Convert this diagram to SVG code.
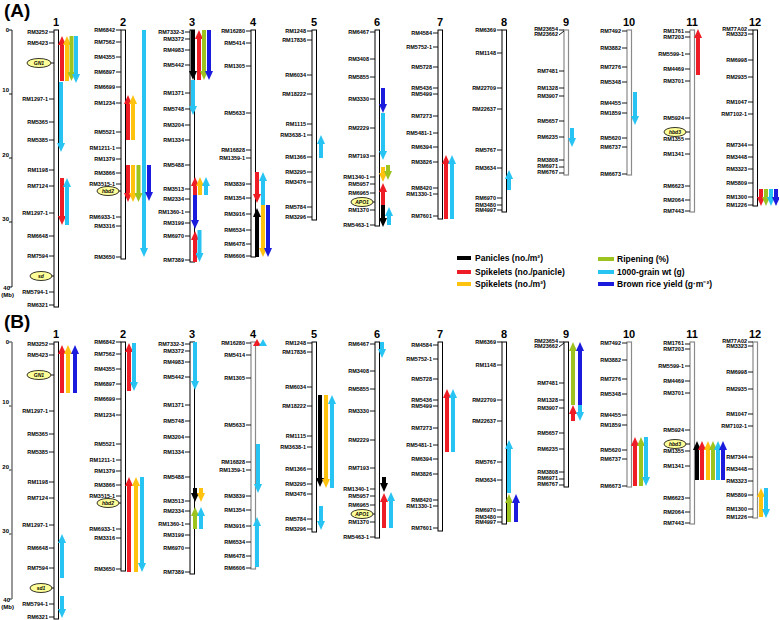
<svg xmlns="http://www.w3.org/2000/svg" width="779" height="620" viewBox="0 0 779 620">
<style>
.chr{fill:#fff;stroke:#000;stroke-width:1}
.chg{fill:#fff;stroke:#8a8a8a;stroke-width:1.2}
.tk{stroke:#000;stroke-width:0.9;fill:none}
.ml{font-family:"Liberation Sans",Arial,sans-serif;font-weight:bold;font-size:5.5px;text-anchor:end;fill:#000}
.num{font-family:"Liberation Sans",Arial,sans-serif;font-weight:bold;font-size:11px;text-anchor:middle}
.ttl{font-family:"Liberation Sans",Arial,sans-serif;font-weight:bold;font-size:19px}
.ax{font-family:"Liberation Sans",Arial,sans-serif;font-weight:bold;font-size:6px;text-anchor:end}
.ov{fill:#ffff99;stroke:#000;stroke-width:0.8}
.ot{font-family:"Liberation Sans",Arial,sans-serif;font-weight:bold;font-style:italic;font-size:5px;text-anchor:middle}
.lg{font-family:"Liberation Sans",Arial,sans-serif;font-weight:bold;font-size:8.5px}
.a{stroke-width:4;fill:none}
.k{stroke:#000}.r{stroke:#ee1c24}.o{stroke:#ffc20e}.g{stroke:#9dc31f}.c{stroke:#27c4f3}.b{stroke:#1b1bde}
.k.a{marker-end:url(#mk)}.r.a{marker-end:url(#mr)}.o.a{marker-end:url(#mo)}.g.a{marker-end:url(#mg)}.c.a{marker-end:url(#mc)}.b.a{marker-end:url(#mb)}
</style>
<defs>
<marker id="mk" viewBox="0 0 10 10" refX="0" refY="5" markerWidth="2.25" markerHeight="2" orient="auto" preserveAspectRatio="none"><path d="M0,0L10,5L0,10z" fill="#000"/></marker>
<marker id="mr" viewBox="0 0 10 10" refX="0" refY="5" markerWidth="2.25" markerHeight="2" orient="auto" preserveAspectRatio="none"><path d="M0,0L10,5L0,10z" fill="#ee1c24"/></marker>
<marker id="mo" viewBox="0 0 10 10" refX="0" refY="5" markerWidth="2.25" markerHeight="2" orient="auto" preserveAspectRatio="none"><path d="M0,0L10,5L0,10z" fill="#ffc20e"/></marker>
<marker id="mg" viewBox="0 0 10 10" refX="0" refY="5" markerWidth="2.25" markerHeight="2" orient="auto" preserveAspectRatio="none"><path d="M0,0L10,5L0,10z" fill="#9dc31f"/></marker>
<marker id="mc" viewBox="0 0 10 10" refX="0" refY="5" markerWidth="2.25" markerHeight="2" orient="auto" preserveAspectRatio="none"><path d="M0,0L10,5L0,10z" fill="#27c4f3"/></marker>
<marker id="mb" viewBox="0 0 10 10" refX="0" refY="5" markerWidth="2.25" markerHeight="2" orient="auto" preserveAspectRatio="none"><path d="M0,0L10,5L0,10z" fill="#1b1bde"/></marker>
</defs>
<rect width="779" height="620" fill="#fff"/>

<!-- PANEL A -->
<text class="ttl" x="4" y="17">(A)</text>
<g id="A-axis">
<path class="tk" d="M12,30V287M9,30h3M9,94h3M9,158h3M9,222h3M9,287h3" stroke-width="1.2"/>
<text class="ax" x="9" y="32">0</text><text class="ax" x="9" y="92">10</text><text class="ax" x="9" y="157">20</text><text class="ax" x="9" y="221">30</text><text class="ax" x="10" y="290">40</text>
<text class="ax" x="14" y="297" style="text-anchor:end">(Mb)</text>
</g>

<g id="A-chr1">
<text class="num" x="56" y="26">1</text>
<rect class="chr" x="54" y="30" width="4.5" height="277"/>
<path class="tk" d="M49,32h5M49,43h5M51,63h3M49,99h5M49,122h5M49,140h5M49,170h5M49,186h5M49,213h5M49,236h5M49,256h5M51,276h3M49,292h5M49,305h5"/>
<text class="ml" x="48" y="34">RM3252</text><text class="ml" x="48" y="45">RM5423</text>
<ellipse class="ov" cx="39" cy="63" rx="12" ry="4.5"/><text class="ot" x="39" y="65">GN1</text>
<text class="ml" x="48" y="101">RM1297-1</text><text class="ml" x="48" y="124">RM5365</text><text class="ml" x="48" y="142">RM5385</text><text class="ml" x="48" y="172">RM1198</text><text class="ml" x="48" y="188">RM7124</text><text class="ml" x="48" y="215">RM1297-1</text><text class="ml" x="48" y="238">RM6648</text><text class="ml" x="48" y="258">RM7594</text>
<ellipse class="ov" cx="41" cy="276" rx="11" ry="4.5"/><text class="ot" x="41" y="278">sd</text>
<text class="ml" x="48" y="294">RM5794-1</text><text class="ml" x="48" y="307">RM6321</text>
</g>

<g id="A-chr2">
<text class="num" x="123" y="26">2</text>
<rect class="chr" x="121" y="30" width="4.5" height="229"/>
<path class="tk" d="M116,30h5M116,42h5M116,57h5M116,72h5M116,87h5M116,103h5M116,132h5M116,148h5M116,159h5M116,173h5M116,184h5M119,191h2M116,217h5M116,226h5M116,257h5"/>
<text class="ml" x="115" y="32">RM6842</text><text class="ml" x="115" y="44">RM7562</text><text class="ml" x="115" y="59">RM4355</text><text class="ml" x="115" y="74">RM6897</text><text class="ml" x="115" y="89">RM6699</text><text class="ml" x="115" y="105">RM1234</text><text class="ml" x="115" y="134">RM5521</text><text class="ml" x="115" y="150">RM1211-1</text><text class="ml" x="115" y="161">RM1379</text><text class="ml" x="115" y="175">RM3866</text><text class="ml" x="115" y="186">RM3515-1</text>
<ellipse class="ov" cx="108" cy="191" rx="11" ry="4.5"/><text class="ot" x="108" y="193">hbd2</text>
<text class="ml" x="115" y="219">RM6933-1</text><text class="ml" x="115" y="228">RM3316</text><text class="ml" x="115" y="259">RM3650</text>
</g>

<g id="A-chr3">
<text class="num" x="192" y="26">3</text>
<rect class="chr" x="190" y="30" width="4.5" height="232"/>
<path class="tk" d="M185,32h5M185,39h5M185,50h5M185,65h5M185,93h5M185,109h5M185,125h5M185,140h5M185,165h5M185,189h5M185,199h5M185,212h5M185,223h5M185,236h5M185,260h5"/>
<text class="ml" x="184" y="34">RM7332-3</text><text class="ml" x="184" y="41">RM3372</text><text class="ml" x="184" y="52">RM4983</text><text class="ml" x="184" y="67">RM5442</text><text class="ml" x="184" y="95">RM1371</text><text class="ml" x="184" y="111">RM5748</text><text class="ml" x="184" y="127">RM3204</text><text class="ml" x="184" y="142">RM1334</text><text class="ml" x="184" y="167">RM5488</text><text class="ml" x="184" y="191">RM3513</text><text class="ml" x="184" y="201">RM2334</text><text class="ml" x="184" y="214">RM1360-1</text><text class="ml" x="184" y="225">RM3199</text><text class="ml" x="184" y="238">RM6970</text><text class="ml" x="184" y="262">RM7389</text>
</g>

<g id="A-chr4">
<text class="num" x="253" y="26">4</text>
<rect class="chr" x="251" y="30" width="4.5" height="227"/>
<path class="tk" d="M246,31h5M246,43h5M246,66h5M246,113h5M246,150h5M246,158h5M246,184h5M246,198h5M246,214h5M246,230h5M246,244h5M246,256h5"/>
<text class="ml" x="245" y="33">RM16280</text><text class="ml" x="245" y="45">RM5414</text><text class="ml" x="245" y="68">RM1305</text><text class="ml" x="245" y="115">RM5633</text><text class="ml" x="245" y="152">RM16828</text><text class="ml" x="245" y="160">RM1359-1</text><text class="ml" x="245" y="186">RM3839</text><text class="ml" x="245" y="200">RM1354</text><text class="ml" x="245" y="216">RM3916</text><text class="ml" x="245" y="232">RM6534</text><text class="ml" x="245" y="246">RM6478</text><text class="ml" x="245" y="258">RM6606</text>
</g>

<g id="A-chr5">
<text class="num" x="314" y="26">5</text>
<rect class="chr" x="312" y="30" width="4.5" height="190"/>
<path class="tk" d="M307,31h5M307,40h5M307,75h5M307,94h5M307,124h5M307,135h5M307,157h5M307,172h5M307,182h5M307,207h5M307,217h5"/>
<text class="ml" x="306" y="33">RM1248</text><text class="ml" x="306" y="42">RM17836</text><text class="ml" x="306" y="77">RM6034</text><text class="ml" x="306" y="96">RM18222</text><text class="ml" x="306" y="126">RM1115</text><text class="ml" x="306" y="137">RM3638-1</text><text class="ml" x="306" y="159">RM1366</text><text class="ml" x="306" y="174">RM3295</text><text class="ml" x="306" y="184">RM3476</text><text class="ml" x="306" y="209">RM5784</text><text class="ml" x="306" y="219">RM3296</text>
</g>

<g id="A-chr6">
<text class="num" x="377" y="26">6</text>
<rect class="chr" x="375" y="30" width="4.5" height="196"/>
<path class="tk" d="M370,32h5M370,59h5M370,77h5M370,99h5M370,128h5M370,156h5M370,177h5M370,184h5M370,193h5M373,202h2M370,210h5M370,225h5"/>
<text class="ml" x="369" y="34">RM6467</text><text class="ml" x="369" y="61">RM3408</text><text class="ml" x="369" y="79">RM5855</text><text class="ml" x="369" y="101">RM3330</text><text class="ml" x="369" y="130">RM2229</text><text class="ml" x="369" y="158">RM7193</text><text class="ml" x="369" y="179">RM1340-1</text><text class="ml" x="369" y="186">RM5957</text><text class="ml" x="369" y="195">RM6965</text>
<ellipse class="ov" cx="362" cy="202" rx="11" ry="4.5"/><text class="ot" x="362" y="204">APO1</text>
<text class="ml" x="369" y="212">RM1370</text><text class="ml" x="369" y="227">RM5463-1</text>
</g>

<g id="A-chr7">
<text class="num" x="440" y="26">7</text>
<rect class="chr" x="438" y="30" width="4.5" height="189"/>
<path class="tk" d="M433,33h5M433,47h5M433,67h5M433,88h5M433,94h5M433,116h5M433,133h5M433,147h5M433,162h5M433,188h5M433,194h5M433,216h5"/>
<text class="ml" x="432" y="35">RM4584</text><text class="ml" x="432" y="49">RM5752-1</text><text class="ml" x="432" y="69">RM5728</text><text class="ml" x="432" y="90">RM5436</text><text class="ml" x="432" y="96">RM5499</text><text class="ml" x="432" y="118">RM7273</text><text class="ml" x="432" y="135">RM5481-1</text><text class="ml" x="432" y="149">RM6394</text><text class="ml" x="432" y="164">RM3826</text><text class="ml" x="432" y="190">RM8420</text><text class="ml" x="432" y="196">RM1330-1</text><text class="ml" x="432" y="218">RM7601</text>
</g>

<g id="A-chr8">
<text class="num" x="504" y="26">8</text>
<rect class="chr" x="502" y="30" width="4.5" height="182"/>
<path class="tk" d="M497,30h5M497,53h5M497,88h5M497,109h5M497,150h5M497,168h5M497,198h5M497,205h5M497,210h5"/>
<text class="ml" x="496" y="32">RM6369</text><text class="ml" x="496" y="55">RM1148</text><text class="ml" x="496" y="90">RM22709</text><text class="ml" x="496" y="111">RM22637</text><text class="ml" x="496" y="152">RM5767</text><text class="ml" x="496" y="170">RM3634</text><text class="ml" x="496" y="200">RM6970</text><text class="ml" x="496" y="207">RM3480</text><text class="ml" x="496" y="212">RM4997</text>
</g>

<g id="A-chr9">
<text class="num" x="566" y="26">9</text>
<rect class="chg" x="564" y="30" width="4.5" height="145"/>
<path class="tk" d="M559,30h5M559,35l5,-4M559,71h5M559,88h5M559,96h5M559,121h5M559,137h5M559,160h5M559,167h5M559,173h5"/>
<text class="ml" x="558" y="31">RM23654</text><text class="ml" x="558" y="36">RM23662</text><text class="ml" x="558" y="73">RM7481</text><text class="ml" x="558" y="90">RM1328</text><text class="ml" x="558" y="98">RM3907</text><text class="ml" x="558" y="123">RM5657</text><text class="ml" x="558" y="139">RM6235</text><text class="ml" x="558" y="162">RM3808</text><text class="ml" x="558" y="168">RM6971</text><text class="ml" x="558" y="174">RM6767</text>
</g>

<g id="A-chr10">
<text class="num" x="629" y="26">10</text>
<rect class="chg" x="627" y="30" width="4.5" height="145"/>
<path class="tk" d="M622,31h5M622,48h5M622,67h5M622,82h5M622,103h5M622,113h5M622,138h5M622,147h5M622,174h5"/>
<text class="ml" x="621" y="33">RM7492</text><text class="ml" x="621" y="50">RM3882</text><text class="ml" x="621" y="69">RM7276</text><text class="ml" x="621" y="84">RM5348</text><text class="ml" x="621" y="105">RM4455</text><text class="ml" x="621" y="115">RM1859</text><text class="ml" x="621" y="140">RM5620</text><text class="ml" x="621" y="149">RM6737</text><text class="ml" x="621" y="176">RM6673</text>
</g>

<g id="A-chr11">
<text class="num" x="692" y="26">11</text>
<rect class="chg" x="690" y="30" width="4.5" height="182"/>
<path class="tk" d="M685,32h5M685,37h5M685,54h5M685,69h5M685,81h5M685,118h5M686,132h4M685,139h5M685,154h5M685,186h5M685,200h5M685,211h5"/>
<text class="ml" x="684" y="33">RM1761</text><text class="ml" x="684" y="39">RM7203</text><text class="ml" x="684" y="56">RM5599-1</text><text class="ml" x="684" y="71">RM4469</text><text class="ml" x="684" y="83">RM3701</text><text class="ml" x="684" y="120">RM5924</text>
<ellipse class="ov" cx="675" cy="132" rx="11" ry="4.5"/><text class="ot" x="675" y="134">hbd3</text>
<text class="ml" x="684" y="141">RM1355</text><text class="ml" x="684" y="156">RM1341</text><text class="ml" x="684" y="188">RM6623</text><text class="ml" x="684" y="202">RM2064</text><text class="ml" x="684" y="213">RM7443</text>
</g>

<g id="A-chr12">
<text class="num" x="755" y="26">12</text>
<rect class="chr" x="753" y="30" width="4.5" height="176"/>
<path class="tk" d="M748,30h5M748,34h5M748,60h5M748,77h5M748,102h5M748,114h5M748,145h5M748,157h5M748,169h5M748,183h5M748,197h5M748,205h5"/>
<text class="ml" x="747" y="31">RM77A02</text><text class="ml" x="747" y="36">RM3323</text><text class="ml" x="747" y="62">RM6998</text><text class="ml" x="747" y="79">RM2935</text><text class="ml" x="747" y="104">RM1047</text><text class="ml" x="747" y="116">RM7102-1</text><text class="ml" x="747" y="147">RM7344</text><text class="ml" x="747" y="159">RM3448</text><text class="ml" x="747" y="171">RM3323</text><text class="ml" x="747" y="185">RM5809</text><text class="ml" x="747" y="199">RM1300</text><text class="ml" x="747" y="207">RM1226</text>
</g>

<g id="A-connectors">
<line class="r a" x1="62" y1="81" x2="62" y2="45"/><line class="o a" x1="67" y1="81" x2="67" y2="45"/><line class="g a" x1="71.5" y1="36" x2="71.5" y2="72"/><line class="c a" x1="76" y1="36" x2="76" y2="74"/>
<line class="c a" x1="61" y1="82" x2="61" y2="143"/>
<line class="r a" x1="62" y1="178" x2="62" y2="216"/><line class="c a" x1="67" y1="225" x2="67" y2="187"/>
<line class="c a" x1="144" y1="30" x2="144" y2="248"/>
<line class="r a" x1="128" y1="140" x2="128" y2="104"/><line class="o a" x1="133" y1="140" x2="133" y2="104"/>
<line class="r a" x1="128" y1="165" x2="128" y2="193"/><line class="o a" x1="133" y1="165" x2="133" y2="193"/><line class="g a" x1="138.5" y1="165" x2="138.5" y2="193"/><line class="b a" x1="149" y1="165" x2="149" y2="192"/>
<line class="k a" x1="193" y1="30" x2="193" y2="71"/><line class="r a" x1="199" y1="80" x2="199" y2="39"/><line class="g a" x1="204" y1="30" x2="204" y2="71"/><line class="b a" x1="209" y1="30" x2="209" y2="71"/>
<line class="c a" x1="193" y1="80" x2="193" y2="106"/>
<line class="r a" x1="195" y1="195" x2="195" y2="186"/><line class="o a" x1="200" y1="195" x2="200" y2="186"/><line class="c a" x1="206" y1="195" x2="206" y2="186"/>
<line class="b a" x1="195" y1="195" x2="195" y2="220"/>
<line class="r a" x1="195" y1="262" x2="195" y2="240"/><line class="c a" x1="199.5" y1="230" x2="199.5" y2="253"/>
<line class="r a" x1="257" y1="172" x2="257" y2="194"/><line class="c a" x1="263" y1="205" x2="263" y2="181"/>
<line class="k a" x1="257" y1="257" x2="257" y2="217"/><line class="o a" x1="263" y1="205" x2="263" y2="248"/><line class="b a" x1="268" y1="205" x2="268" y2="248"/>
<line class="c a" x1="321" y1="158" x2="321" y2="144"/>
<line class="b a" x1="383" y1="88" x2="383" y2="104"/><line class="c a" x1="383" y1="113" x2="383" y2="151"/>
<line class="o a" x1="383" y1="167" x2="383" y2="173"/><line class="g a" x1="388" y1="165" x2="388" y2="171"/>
<line class="r a" x1="383" y1="205" x2="383" y2="192"/><line class="k a" x1="383" y1="205" x2="383" y2="218"/><line class="c a" x1="389" y1="225" x2="389" y2="216"/>
<line class="r a" x1="446" y1="219" x2="446" y2="164"/><line class="c a" x1="452" y1="219" x2="452" y2="164"/>
<line class="c a" x1="509" y1="190" x2="509" y2="179"/>
<line class="c a" x1="572" y1="128" x2="572" y2="138"/>
<line class="c a" x1="635" y1="92" x2="635" y2="116"/>
<line class="r a" x1="698" y1="75" x2="698" y2="38"/>
<line class="r a" x1="761" y1="189" x2="761" y2="197"/><line class="g a" x1="766" y1="189" x2="766" y2="197"/><line class="c a" x1="771" y1="189" x2="771" y2="197"/><line class="b a" x1="776" y1="189" x2="776" y2="197"/>
</g>

<g id="legend">
<path class="k" d="M457,258h14" stroke-width="4"/><text class="lg" x="475" y="261">Panicles (no./m²)</text>
<path class="r" d="M457,272h14" stroke-width="4"/><text class="lg" x="475" y="275">Spikelets (no./panicle)</text>
<path class="o" d="M457,284h14" stroke-width="4"/><text class="lg" x="475" y="287">Spikelets (no./m²)</text>
<path class="g" d="M598,259h16" stroke-width="4"/><text class="lg" x="617" y="262">Ripening (%)</text>
<path class="c" d="M598,272h16" stroke-width="4"/><text class="lg" x="617" y="275">1000-grain wt (g)</text>
<path class="b" d="M598,284h16" stroke-width="4"/><text class="lg" x="617" y="287">Brown rice yield (g·m⁻²)</text>
</g>

<!-- PANEL B -->
<text class="ttl" x="4" y="328">(B)</text>
<g id="B-axis" transform="translate(0,312)">
<path d="M12,30V287M9,30h3M9,94h3M9,158h3M9,222h3M9,287h3" stroke="#777" stroke-width="1.5" fill="none"/>
<text class="ax" x="9" y="32">0</text><text class="ax" x="9" y="92">10</text><text class="ax" x="9" y="157">20</text><text class="ax" x="9" y="221">30</text><text class="ax" x="10" y="290">40</text>
<text class="ax" x="14" y="297">(Mb)</text>
</g>

<g id="B-chr1" transform="translate(0,312)">
<text class="num" x="56" y="26">1</text>
<rect class="chr" x="54" y="30" width="4.5" height="277"/>
<path class="tk" d="M49,32h5M49,43h5M51,63h3M49,99h5M49,122h5M49,140h5M49,170h5M49,186h5M49,213h5M49,236h5M49,256h5M51,276h3M49,292h5M49,305h5"/>
<text class="ml" x="48" y="34">RM3252</text><text class="ml" x="48" y="45">RM5423</text>
<ellipse class="ov" cx="39" cy="63" rx="12" ry="4.5"/><text class="ot" x="39" y="65">GN1</text>
<text class="ml" x="48" y="101">RM1297-1</text><text class="ml" x="48" y="124">RM5365</text><text class="ml" x="48" y="142">RM5385</text><text class="ml" x="48" y="172">RM1198</text><text class="ml" x="48" y="188">RM7124</text><text class="ml" x="48" y="215">RM1297-1</text><text class="ml" x="48" y="238">RM6648</text><text class="ml" x="48" y="258">RM7594</text>
<ellipse class="ov" cx="41" cy="276" rx="11" ry="4.5"/><text class="ot" x="41" y="278">sd1</text>
<text class="ml" x="48" y="294">RM5794-1</text><text class="ml" x="48" y="307">RM6321</text>
</g>

<g id="B-chr2" transform="translate(0,312)">
<text class="num" x="123" y="26">2</text>
<rect class="chr" x="121" y="30" width="4.5" height="229"/>
<path class="tk" d="M116,30h5M116,42h5M116,57h5M116,72h5M116,87h5M116,103h5M116,132h5M116,148h5M116,159h5M116,173h5M116,184h5M119,191h2M116,217h5M116,226h5M116,257h5"/>
<text class="ml" x="115" y="32">RM6842</text><text class="ml" x="115" y="44">RM7562</text><text class="ml" x="115" y="59">RM4355</text><text class="ml" x="115" y="74">RM6897</text><text class="ml" x="115" y="89">RM6699</text><text class="ml" x="115" y="105">RM1234</text><text class="ml" x="115" y="134">RM5521</text><text class="ml" x="115" y="150">RM1211-1</text><text class="ml" x="115" y="161">RM1379</text><text class="ml" x="115" y="175">RM3866</text><text class="ml" x="115" y="186">RM3515-1</text>
<ellipse class="ov" cx="108" cy="191" rx="11" ry="4.5"/><text class="ot" x="108" y="193">hbd2</text>
<text class="ml" x="115" y="219">RM6933-1</text><text class="ml" x="115" y="228">RM3316</text><text class="ml" x="115" y="259">RM3650</text>
</g>

<g id="B-chr3" transform="translate(0,312)">
<text class="num" x="192" y="26">3</text>
<rect class="chr" x="190" y="30" width="4.5" height="232"/>
<path class="tk" d="M185,32h5M185,39h5M185,50h5M185,65h5M185,93h5M185,109h5M185,125h5M185,140h5M185,165h5M185,189h5M185,199h5M185,212h5M185,223h5M185,236h5M185,260h5"/>
<text class="ml" x="184" y="34">RM7332-3</text><text class="ml" x="184" y="41">RM3372</text><text class="ml" x="184" y="52">RM4983</text><text class="ml" x="184" y="67">RM5442</text><text class="ml" x="184" y="95">RM1371</text><text class="ml" x="184" y="111">RM5748</text><text class="ml" x="184" y="127">RM3204</text><text class="ml" x="184" y="142">RM1334</text><text class="ml" x="184" y="167">RM5488</text><text class="ml" x="184" y="191">RM3513</text><text class="ml" x="184" y="201">RM2334</text><text class="ml" x="184" y="214">RM1360-1</text><text class="ml" x="184" y="225">RM3199</text><text class="ml" x="184" y="238">RM6970</text><text class="ml" x="184" y="262">RM7389</text>
</g>

<g id="B-chr4" transform="translate(0,312)">
<text class="num" x="253" y="26">4</text>
<rect class="chg" x="251" y="30" width="4.5" height="227"/>
<path class="tk" d="M246,31h5M246,43h5M246,66h5M246,113h5M246,150h5M246,158h5M246,184h5M246,198h5M246,214h5M246,230h5M246,244h5M246,256h5"/>
<text class="ml" x="245" y="33">RM16280</text><text class="ml" x="245" y="45">RM5414</text><text class="ml" x="245" y="68">RM1305</text><text class="ml" x="245" y="115">RM5633</text><text class="ml" x="245" y="152">RM16828</text><text class="ml" x="245" y="160">RM1359-1</text><text class="ml" x="245" y="186">RM3839</text><text class="ml" x="245" y="200">RM1354</text><text class="ml" x="245" y="216">RM3916</text><text class="ml" x="245" y="232">RM6534</text><text class="ml" x="245" y="246">RM6478</text><text class="ml" x="245" y="258">RM6606</text>
</g>

<g id="B-chr5" transform="translate(0,312)">
<text class="num" x="314" y="26">5</text>
<rect class="chr" x="312" y="30" width="4.5" height="190"/>
<path class="tk" d="M307,31h5M307,40h5M307,75h5M307,94h5M307,124h5M307,135h5M307,157h5M307,172h5M307,182h5M307,207h5M307,217h5"/>
<text class="ml" x="306" y="33">RM1248</text><text class="ml" x="306" y="42">RM17836</text><text class="ml" x="306" y="77">RM6034</text><text class="ml" x="306" y="96">RM18222</text><text class="ml" x="306" y="126">RM1115</text><text class="ml" x="306" y="137">RM3638-1</text><text class="ml" x="306" y="159">RM1366</text><text class="ml" x="306" y="174">RM3295</text><text class="ml" x="306" y="184">RM3476</text><text class="ml" x="306" y="209">RM5784</text><text class="ml" x="306" y="219">RM3296</text>
</g>

<g id="B-chr6" transform="translate(0,312)">
<text class="num" x="377" y="26">6</text>
<rect class="chr" x="375" y="30" width="4.5" height="196"/>
<path class="tk" d="M370,32h5M370,59h5M370,77h5M370,99h5M370,128h5M370,156h5M370,177h5M370,184h5M370,193h5M373,202h2M370,210h5M370,225h5"/>
<text class="ml" x="369" y="34">RM6467</text><text class="ml" x="369" y="61">RM3408</text><text class="ml" x="369" y="79">RM5855</text><text class="ml" x="369" y="101">RM3330</text><text class="ml" x="369" y="130">RM2229</text><text class="ml" x="369" y="158">RM7193</text><text class="ml" x="369" y="179">RM1340-1</text><text class="ml" x="369" y="186">RM5957</text><text class="ml" x="369" y="195">RM6965</text>
<ellipse class="ov" cx="362" cy="202" rx="11" ry="4.5"/><text class="ot" x="362" y="204">APO1</text>
<text class="ml" x="369" y="212">RM1370</text><text class="ml" x="369" y="227">RM5463-1</text>
</g>

<g id="B-chr7" transform="translate(0,312)">
<text class="num" x="440" y="26">7</text>
<rect class="chr" x="438" y="30" width="4.5" height="189"/>
<path class="tk" d="M433,33h5M433,47h5M433,67h5M433,88h5M433,94h5M433,116h5M433,133h5M433,147h5M433,162h5M433,188h5M433,194h5M433,216h5"/>
<text class="ml" x="432" y="35">RM4584</text><text class="ml" x="432" y="49">RM5752-1</text><text class="ml" x="432" y="69">RM5728</text><text class="ml" x="432" y="90">RM5436</text><text class="ml" x="432" y="96">RM5499</text><text class="ml" x="432" y="118">RM7273</text><text class="ml" x="432" y="135">RM5481-1</text><text class="ml" x="432" y="149">RM6394</text><text class="ml" x="432" y="164">RM3826</text><text class="ml" x="432" y="190">RM8420</text><text class="ml" x="432" y="196">RM1330-1</text><text class="ml" x="432" y="218">RM7601</text>
</g>

<g id="B-chr8" transform="translate(0,312)">
<text class="num" x="504" y="26">8</text>
<rect class="chr" x="502" y="30" width="4.5" height="182"/>
<path class="tk" d="M497,30h5M497,53h5M497,88h5M497,109h5M497,150h5M497,168h5M497,198h5M497,205h5M497,210h5"/>
<text class="ml" x="496" y="32">RM6369</text><text class="ml" x="496" y="55">RM1148</text><text class="ml" x="496" y="90">RM22709</text><text class="ml" x="496" y="111">RM22637</text><text class="ml" x="496" y="152">RM5767</text><text class="ml" x="496" y="170">RM3634</text><text class="ml" x="496" y="200">RM6970</text><text class="ml" x="496" y="207">RM3480</text><text class="ml" x="496" y="212">RM4997</text>
</g>

<g id="B-chr9" transform="translate(0,312)">
<text class="num" x="566" y="26">9</text>
<rect class="chr" x="564" y="30" width="4.5" height="145"/>
<path class="tk" d="M559,30h5M559,35l5,-4M559,71h5M559,88h5M559,96h5M559,121h5M559,137h5M559,160h5M559,167h5M559,173h5"/>
<text class="ml" x="558" y="31">RM23654</text><text class="ml" x="558" y="36">RM23662</text><text class="ml" x="558" y="73">RM7481</text><text class="ml" x="558" y="90">RM1328</text><text class="ml" x="558" y="98">RM3907</text><text class="ml" x="558" y="123">RM5657</text><text class="ml" x="558" y="139">RM6235</text><text class="ml" x="558" y="162">RM3808</text><text class="ml" x="558" y="168">RM6971</text><text class="ml" x="558" y="174">RM6767</text>
</g>

<g id="B-chr10" transform="translate(0,312)">
<text class="num" x="629" y="26">10</text>
<rect class="chg" x="627" y="30" width="4.5" height="145"/>
<path class="tk" d="M622,31h5M622,48h5M622,67h5M622,82h5M622,103h5M622,113h5M622,138h5M622,147h5M622,174h5"/>
<text class="ml" x="621" y="33">RM7492</text><text class="ml" x="621" y="50">RM3882</text><text class="ml" x="621" y="69">RM7276</text><text class="ml" x="621" y="84">RM5348</text><text class="ml" x="621" y="105">RM4455</text><text class="ml" x="621" y="115">RM1859</text><text class="ml" x="621" y="140">RM5620</text><text class="ml" x="621" y="149">RM6737</text><text class="ml" x="621" y="176">RM6673</text>
</g>

<g id="B-chr11" transform="translate(0,312)">
<text class="num" x="692" y="26">11</text>
<rect class="chg" x="690" y="30" width="4.5" height="182"/>
<path class="tk" d="M685,32h5M685,37h5M685,54h5M685,69h5M685,81h5M685,118h5M686,132h4M685,139h5M685,154h5M685,186h5M685,200h5M685,211h5"/>
<text class="ml" x="684" y="33">RM1761</text><text class="ml" x="684" y="39">RM7203</text><text class="ml" x="684" y="56">RM5599-1</text><text class="ml" x="684" y="71">RM4469</text><text class="ml" x="684" y="83">RM3701</text><text class="ml" x="684" y="120">RM5924</text>
<ellipse class="ov" cx="675" cy="132" rx="11" ry="4.5"/><text class="ot" x="675" y="134">hbd3</text>
<text class="ml" x="684" y="141">RM1355</text><text class="ml" x="684" y="156">RM1341</text><text class="ml" x="684" y="188">RM6623</text><text class="ml" x="684" y="202">RM2064</text><text class="ml" x="684" y="213">RM7443</text>
</g>

<g id="B-chr12" transform="translate(0,312)">
<text class="num" x="755" y="26">12</text>
<rect class="chg" x="753" y="30" width="4.5" height="176"/>
<path class="tk" d="M748,30h5M748,34h5M748,60h5M748,77h5M748,102h5M748,114h5M748,145h5M748,157h5M748,169h5M748,183h5M748,197h5M748,205h5"/>
<text class="ml" x="747" y="31">RM77A02</text><text class="ml" x="747" y="36">RM3323</text><text class="ml" x="747" y="62">RM6998</text><text class="ml" x="747" y="79">RM2935</text><text class="ml" x="747" y="104">RM1047</text><text class="ml" x="747" y="116">RM7102-1</text><text class="ml" x="747" y="147">RM7344</text><text class="ml" x="747" y="159">RM3448</text><text class="ml" x="747" y="171">RM3323</text><text class="ml" x="747" y="185">RM5809</text><text class="ml" x="747" y="199">RM1300</text><text class="ml" x="747" y="207">RM1226</text>
</g>

<g id="B-connectors">
<line class="r a" x1="62" y1="393" x2="62" y2="354"/><line class="o a" x1="68" y1="393" x2="68" y2="354"/><line class="b a" x1="75" y1="393" x2="75" y2="354"/>
<line class="c a" x1="62" y1="578" x2="62" y2="543"/><line class="c a" x1="62" y1="596" x2="62" y2="609"/>
<line class="r a" x1="129" y1="391" x2="129" y2="352"/><line class="c a" x1="134" y1="343" x2="134" y2="382"/>
<line class="r a" x1="129" y1="572" x2="129" y2="486"/><line class="o a" x1="136" y1="572" x2="136" y2="486"/><line class="c a" x1="142" y1="477" x2="142" y2="563"/>
<line class="c a" x1="195" y1="342" x2="195" y2="381"/>
<line class="k a" x1="195" y1="488" x2="195" y2="493"/><line class="o a" x1="201" y1="488" x2="201" y2="493"/>
<line class="g a" x1="195" y1="529" x2="195" y2="516"/><line class="c a" x1="201" y1="529" x2="201" y2="516"/>
<polygon points="257,339 261,346 253,346" fill="#ee1c24"/><polygon points="263,339 267,346 259,346" fill="#27c4f3"/>
<line class="c a" x1="258" y1="444" x2="258" y2="484"/><line class="c a" x1="257" y1="567" x2="257" y2="526"/>
<line class="k a" x1="320" y1="395" x2="320" y2="478"/><line class="o a" x1="326" y1="395" x2="326" y2="479"/><line class="c a" x1="332" y1="488" x2="332" y2="404"/>
<line class="c a" x1="321" y1="506" x2="321" y2="521"/>
<line class="c a" x1="382" y1="342" x2="382" y2="349"/>
<line class="k a" x1="384" y1="477" x2="384" y2="483"/><line class="r a" x1="384" y1="528" x2="384" y2="502"/><line class="c a" x1="391" y1="528" x2="391" y2="501"/>
<line class="r a" x1="447" y1="452" x2="447" y2="398"/><line class="c a" x1="453" y1="452" x2="453" y2="398"/>
<line class="c a" x1="509" y1="493" x2="509" y2="449"/><line class="g a" x1="509" y1="522" x2="509" y2="503"/><line class="b a" x1="516" y1="522" x2="516" y2="503"/>
<line class="g a" x1="573" y1="405" x2="573" y2="351"/><line class="b a" x1="580" y1="405" x2="580" y2="351"/><line class="r a" x1="573" y1="421" x2="573" y2="414"/><line class="c a" x1="580" y1="405" x2="580" y2="412"/>
<line class="r a" x1="635" y1="486" x2="635" y2="446"/><line class="g a" x1="641" y1="486" x2="641" y2="446"/><line class="c a" x1="646" y1="437" x2="646" y2="477"/>
<line class="k a" x1="697" y1="480" x2="697" y2="450"/><line class="r a" x1="702" y1="480" x2="702" y2="450"/><line class="o a" x1="708" y1="480" x2="708" y2="450"/><line class="g a" x1="713" y1="480" x2="713" y2="450"/><line class="c a" x1="718" y1="480" x2="718" y2="450"/><line class="b a" x1="723" y1="480" x2="723" y2="450"/>
<line class="o a" x1="761" y1="517" x2="761" y2="497"/><line class="c a" x1="766" y1="488" x2="766" y2="509"/>
</g>
</svg>
